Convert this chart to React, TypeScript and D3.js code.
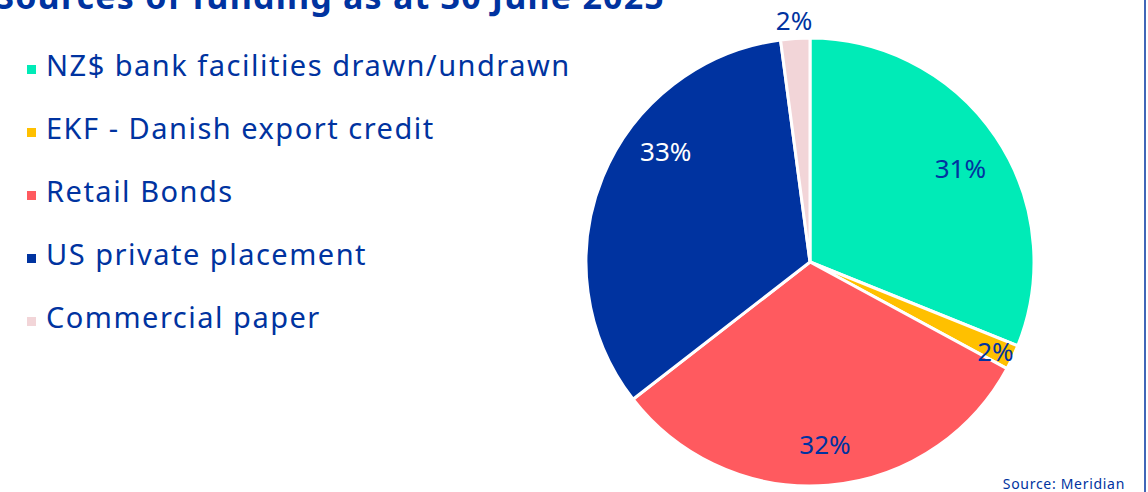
import React from "react";
import * as d3 from "d3";

const categories = [
  "NZ$ bank facilities drawn/undrawn",
  "EKF - Danish export credit",
  "Retail Bonds",
  "US private placement",
  "Commercial paper",
];
const values = [31.1, 1.8, 31.6, 33.4, 2.1];
const colors = ["#00EBB7", "#FFC000", "#FF5A5F", "#0033A0", "#F2D5D8"];
const labelColors = ["#0033A0", "#0033A0", "#0033A0", "#FFFFFF", "#0033A0"];
const title = "Sources of funding as at 30 June 2025";
const source = "Source: Meridian";

const W = 1148;
const H = 492;
const FONT = "'Noto Sans', 'Open Sans', sans-serif";

export default function App() {
  const cx = 810;
  const cy = 262;
  const r = 224;
  const pie = d3.pie<number>().sort(null).value((d) => d)(values);
  const arc = d3.arc<d3.PieArcDatum<number>>().innerRadius(0).outerRadius(r);
  // [fraction along slice angle, fraction of radius]
  const labelPos: [number, number][] = [
    [0.52, 0.79],
    [0.6, 0.92],
    [0.5, 0.82],
    [0.625, 0.81],
    [0.5, 1.08],
  ];
  const total = d3.sum(values);

  return (
    <svg
      width={W}
      height={H}
      style={{ position: "absolute", left: 0, top: 0, background: "#fff" }}
      fontFamily={FONT}
    >
      <text
        x={665}
        y={9}
        textAnchor="end"
        fontSize={34}
        fontWeight="bold"
        fill="#0033A0"
        letterSpacing={1.2}
      >
        {title}
      </text>
      {categories.map((c, i) => {
        const y = 76 + i * 63;
        return (
          <g key={c}>
            <rect x={27} y={y - 11} width={9} height={9} fill={colors[i]} />
            <text x={46} y={y} fontSize={29} fill="#0033A0" letterSpacing={1.5}>
              {c}
            </text>
          </g>
        );
      })}
      <g transform={`translate(${cx},${cy})`}>
        {pie.map((p, i) => (
          <path key={i} d={arc(p) || ""} fill={colors[i]} stroke="#fff" strokeWidth={3} />
        ))}
        {pie.map((p, i) => {
          const [fa, fr] = labelPos[i];
          const a = p.startAngle + (p.endAngle - p.startAngle) * fa;
          const rr = r * fr;
          const x = Math.sin(a) * rr;
          const y = -Math.cos(a) * rr;
          return (
            <text
              key={"l" + i}
              x={x}
              y={y}
              dy="0.35em"
              textAnchor="middle"
              fontSize={26}
              fill={labelColors[i]}
            >
              {Math.round((values[i] / total) * 100) + "%"}
            </text>
          );
        })}
      </g>
      <text x={1125} y={489} textAnchor="end" fontSize={14} fill="#0033A0" letterSpacing={0.7}>
        {source}
      </text>
      <line x1={1145} x2={1145} y1={0} y2={H} stroke="#0033A0" strokeWidth={1.5} />
    </svg>
  );
}
